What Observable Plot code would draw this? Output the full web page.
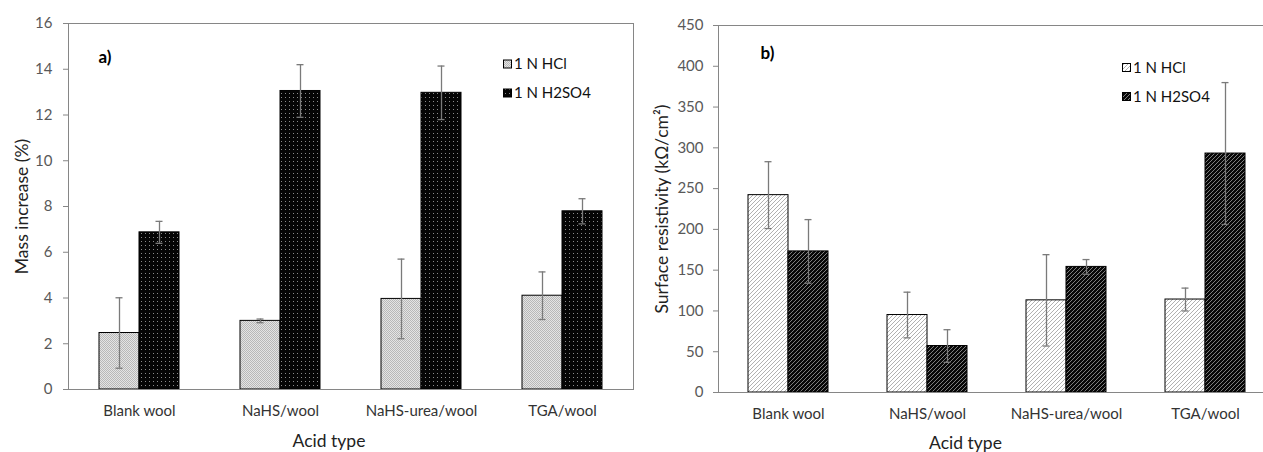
<!DOCTYPE html>
<html>
<head>
<meta charset="utf-8">
<script src="https://cdn.jsdelivr.net/npm/d3@7"></script>
<script src="https://cdn.jsdelivr.net/npm/@observablehq/plot@0.6"></script>
<style>
  html, body { margin: 0; padding: 0; background: #fff; overflow: hidden; }
  #wrap { width: 1263px; height: 452px; overflow: hidden; display: flex; font-family: Lato, "Open Sans", sans-serif; }
  #wrap > svg, #wrap > figure { flex-shrink: 0; margin: 0; }
</style>
</head>
<body>
<svg width="0" height="0" style="position:absolute">
  <defs>
    <pattern id="pa1" width="2" height="2" patternUnits="userSpaceOnUse">
      <rect width="2" height="2" fill="#e4e4e4"/>
      <rect x="0" y="0" width="1" height="1" fill="#b8b8b8"/>
      <rect x="1" y="1" width="1" height="1" fill="#b8b8b8"/>
    </pattern>
    <pattern id="pa2" width="4" height="4" patternUnits="userSpaceOnUse">
      <rect width="4" height="4" fill="#050505"/>
      <rect x="1" y="1" width="1" height="1" fill="#8a8a8a"/>
    </pattern>
    <pattern id="pb1" width="4" height="4" patternUnits="userSpaceOnUse">
      <rect width="4" height="4" fill="#ffffff"/>
      <path d="M0,4 L4,0 M-1,1 L1,-1 M3,5 L5,3" stroke="#a8a8a8" stroke-width="0.9"/>
    </pattern>
    <pattern id="pb2" width="4" height="4" patternUnits="userSpaceOnUse">
      <rect width="4" height="4" fill="#080808"/>
      <path d="M0,4 L4,0 M-1,1 L1,-1 M3,5 L5,3" stroke="#8c8c8c" stroke-width="0.9"/>
    </pattern>
  </defs>
</svg>
<div id="wrap"></div>
<script>
// ---- data ----
const categories = ["Blank wool", "NaHS/wool", "NaHS-urea/wool", "TGA/wool"];
const seriesNames = ["1 N HCl", "1 N H2SO4"];

// a) Mass increase (%)
const massHCl      = [2.47, 3.0, 3.96, 4.1];
const massHClErr   = [1.54, 0.08, 1.74, 1.04];
const massH2SO4    = [6.87, 13.05, 12.97, 7.79];
const massH2SO4Err = [0.48, 1.15, 1.17, 0.55];
const massTicks    = [0, 2, 4, 6, 8, 10, 12, 14, 16];

// b) Surface resistivity (kΩ/cm²)
const resHCl       = [242, 95, 113, 114];
const resHClErr    = [41, 28, 56, 14];
const resH2SO4     = [173, 57, 154, 293];
const resH2SO4Err  = [39, 20, 9, 87];
const resTicks     = [0, 50, 100, 150, 200, 250, 300, 350, 400, 450];

function rows(vals, errs) {
  return categories.map((c, i) => ({cat: c, v: vals[i], e: errs[i]}));
}

function panel(o) {
  const s1 = rows(o.v1, o.e1), s2 = rows(o.v2, o.e2);
  const W = o.width;
  const errStroke = "#7a7a7a";
  const cap = {insetLeft: 16.5, insetRight: 16.5, stroke: errStroke, strokeWidth: 1.3};
  const pi = 1 - 40 / ((W - o.ml - o.mr) / categories.length);
  const svg = Plot.plot({
    width: W,
    height: 452,
    marginLeft: o.ml, marginRight: o.mr, marginTop: o.mt, marginBottom: o.mb,
    style: {fontFamily: "Lato, 'Open Sans', sans-serif", fontSize: "15px", background: "#fff", overflow: "visible"},
    x: {domain: categories, paddingInner: pi, paddingOuter: pi / 2, label: null},
    y: {domain: o.yDomain, label: null},
    marks: [
      Plot.barY(s1, {x: "cat", y: "v", dx: -20, fill: o.f1, stroke: "#000", strokeWidth: 1}),
      Plot.barY(s2, {x: "cat", y: "v", dx: 20, fill: o.f2, stroke: "#000", strokeWidth: 1}),
      Plot.ruleX(s1, {x: "cat", y1: d => d.v - d.e, y2: d => d.v + d.e, dx: -20, stroke: errStroke, strokeWidth: 1.3}),
      Plot.ruleX(s2, {x: "cat", y1: d => d.v - d.e, y2: d => d.v + d.e, dx: 20, stroke: errStroke, strokeWidth: 1.3}),
      Plot.tickY(s1, {x: "cat", y: d => d.v + d.e, dx: -20, ...cap}),
      Plot.tickY(s1, {x: "cat", y: d => d.v - d.e, dx: -20, ...cap}),
      Plot.tickY(s2, {x: "cat", y: d => d.v + d.e, dx: 20, ...cap}),
      Plot.tickY(s2, {x: "cat", y: d => d.v - d.e, dx: 20, ...cap}),
      Plot.frame({stroke: "#868686", strokeWidth: 1}),
      Plot.axisY({ticks: o.yTicks, tickSize: 5, tickPadding: o.tp, stroke: "#868686", fill: "#595959", fontSize: 15, label: null}),
      Plot.axisX({tickSize: 0, tickPadding: 16, fill: "#333", fontSize: 15, label: null}),
      Plot.text([o.yLabel], {frameAnchor: "left", rotate: -90, dx: o.yLabelDx, textAnchor: "middle", lineAnchor: "middle", fontSize: 17.5, fill: "#222"}),
      Plot.text(["Acid type"], {frameAnchor: "bottom", dy: o.xLabelDy, dx: o.xLabelDx, textAnchor: "middle", lineAnchor: "middle", fontSize: 17.5, fill: "#222"}),
      Plot.text([o.letter], {frameAnchor: "top-left", dx: o.letterDx, dy: o.letterDy, textAnchor: "start", lineAnchor: "middle", fontSize: 17, fontWeight: "bold", fill: "#000"})
    ]
  });
  // legend (inside the plot area, as in the reference)
  const g = d3.select(svg).append("g")
    .attr("font-family", "Lato, 'Open Sans', sans-serif")
    .attr("font-size", 15)
    .attr("text-anchor", "start");
  [o.f1, o.f2].forEach((f, i) => {
    const y = o.legY + i * 29;
    g.append("rect").attr("x", o.legX + 0.5).attr("y", y + 0.5).attr("width", 8).attr("height", 8)
      .attr("fill", f).attr("stroke", "#000").attr("stroke-width", 1);
    g.append("text").attr("x", o.legX + 11).attr("y", y + 9.5).attr("text-anchor", "start")
      .attr("fill", "#111").text(seriesNames[i]);
  });
  return svg;
}

const wrap = document.getElementById("wrap");
wrap.append(panel({
  width: 640, ml: 68, mr: 7, mt: 23, mb: 63,
  v1: massHCl, e1: massHClErr, v2: massH2SO4, e2: massH2SO4Err,
  yDomain: [0, 16], yTicks: massTicks, tp: 11,
  f1: "url(#pa1)", f2: "url(#pa2)",
  yLabel: "Mass increase (%)", yLabelDx: -46,
  xLabelDx: -22, xLabelDy: 52,
  letter: "a)", letterDx: 30, letterDy: 34,
  legX: 503, legY: 59.5
}));
wrap.append(panel({
  width: 640, ml: 78, mr: 6, mt: 25, mb: 60,
  v1: resHCl, e1: resHClErr, v2: resH2SO4, e2: resH2SO4Err,
  yDomain: [0, 450], yTicks: resTicks, tp: 10,
  f1: "url(#pb1)", f2: "url(#pb2)",
  yLabel: "Surface resistivity (kΩ/cm²)", yLabelDx: -56,
  xLabelDx: -31, xLabelDy: 51,
  letter: "b)", letterDx: 42, letterDy: 28,
  legX: 482, legY: 63
}));
</script>
</body>
</html>
